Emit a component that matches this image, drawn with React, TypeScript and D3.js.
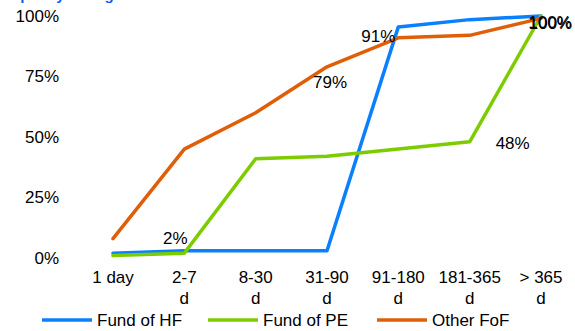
import React from "react";
import * as d3 from "d3";

const categories = ["1 day", "2-7 d", "8-30 d", "31-90 d", "91-180 d", "181-365 d", "> 365 d"];
const fundOfHF = [2, 3, 3, 3, 95.5, 98.5, 100];
const fundOfPE = [1, 2, 41, 42, 45, 48, 100];
const otherFoF = [8, 45, 60, 79, 91, 92, 99];
const yTicks = [0, 25, 50, 75, 100];
const seriesNames = ["Fund of HF", "Fund of PE", "Other FoF"];
const seriesColors = ["#0A80FF", "#7DCC00", "#E05E08"];
const labels = [
  { series: 1, index: 1, text: "2%", dx: -9, dy: -15 },
  { series: 2, index: 3, text: "79%", dx: 3, dy: 15 },
  { series: 2, index: 4, text: "91%", dx: -20, dy: -2 },
  { series: 1, index: 5, text: "48%", dx: 43, dy: 1 },
  { series: 0, index: 6, text: "100%", dx: 9, dy: 6 },
  { series: 2, index: 6, text: "100%", dx: 9.5, dy: 5 },
];

export default function App() {
  const W = 575, H = 331;
  const data = [fundOfHF, fundOfPE, otherFoF];
  const x = d3.scalePoint().domain(categories).range([113, 541]);
  const y = d3.scaleLinear().domain([0, 100]).range([258, 16]);
  const line = d3.line<number>().x((_, i) => x(categories[i])!).y((v) => y(v));
  const font = "Liberation Sans, Arial, sans-serif";
  return (
    <svg width={W} height={H} style={{ position: "absolute", left: 0, top: 0 }} fontFamily={font}>
      <rect width={W} height={H} fill="#fff" />
      <text x={2} y={-0.5} fill="#0A5CFF" fontWeight="bold" fontSize={15}>Liquidity timing</text>
      {yTicks.map((t) => (
        <text key={t} x={59} y={y(t)} dy="0.35em" textAnchor="end" fontSize={17} fill="#000">{t}%</text>
      ))}
      {categories.map((c) => {
        const parts = c.split(" ");
        const lines = c === "1 day" ? [c] : c.startsWith(">") ? ["> 365", "d"] : [parts[0], parts[1]];
        return (
          <text key={c} x={x(c)} y={283} textAnchor="middle" fontSize={17} fill="#000">
            {lines.map((l, i) => (
              <tspan key={i} x={x(c)} dy={i === 0 ? 0 : 21}>{l}</tspan>
            ))}
          </text>
        );
      })}
      {data.map((s, i) => (
        <path key={i} d={line(s)!} fill="none" stroke={seriesColors[i]} strokeWidth={3.5} strokeLinejoin="round" strokeLinecap="round" />
      ))}
      {labels.map((l, i) => {
        const s = data[l.series];
        return (
          <text key={i} x={x(categories[l.index])! + l.dx} y={y(s[l.index]) + l.dy} dy="0.35em" textAnchor="middle" fontSize={17} fill="#000">{l.text}</text>
        );
      })}
      {seriesNames.map((n, i) => {
        const lx = [42, 208, 377][i];
        return (
          <g key={n}>
            <line x1={lx} x2={lx + 50} y1={320} y2={320} stroke={seriesColors[i]} strokeWidth={3.5} />
            <text x={lx + 55} y={320} dy="0.35em" fontSize={17} fill="#000">{n}</text>
          </g>
        );
      })}
    </svg>
  );
}
